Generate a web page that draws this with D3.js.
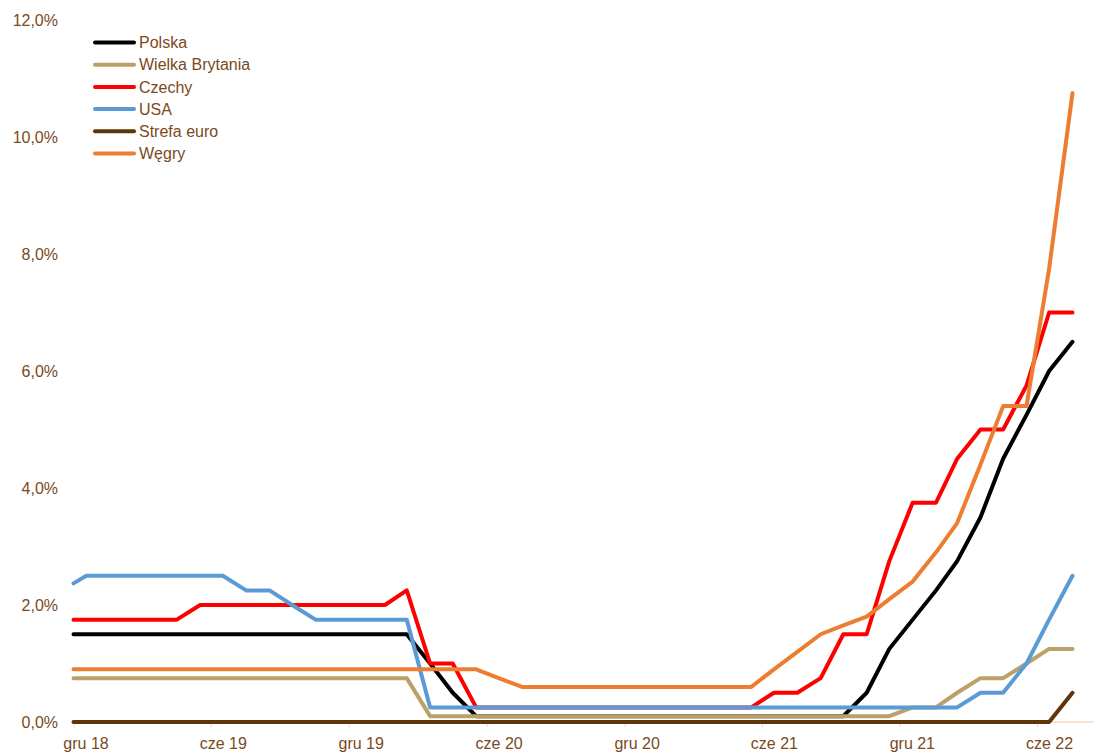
<!DOCTYPE html>
<html>
<head>
<meta charset="utf-8">
<script src="https://cdn.jsdelivr.net/npm/d3@7"></script>
<style>
    body { margin: 0; background: #fff; }
    svg { display: block; font-family: "Liberation Sans", Arial, sans-serif; }
</style>
</head>
<body>
<svg id="chart"></svg>
<script>
// month-end observations (first one is the start of the window)
const dates = [
    "2018-12-14", "2018-12-31",
    "2019-01-31", "2019-02-28", "2019-03-31", "2019-04-30", "2019-05-31", "2019-06-30",
    "2019-07-31", "2019-08-31", "2019-09-30", "2019-10-31", "2019-11-30", "2019-12-31",
    "2020-01-31", "2020-02-29", "2020-03-31", "2020-04-30", "2020-05-31", "2020-06-30",
    "2020-07-31", "2020-08-31", "2020-09-30", "2020-10-31", "2020-11-30", "2020-12-31",
    "2021-01-31", "2021-02-28", "2021-03-31", "2021-04-30", "2021-05-31", "2021-06-30",
    "2021-07-31", "2021-08-31", "2021-09-30", "2021-10-31", "2021-11-30", "2021-12-31",
    "2022-01-31", "2022-02-28", "2022-03-31", "2022-04-30", "2022-05-31", "2022-06-30",
    "2022-07-31"
];

const polska = [1.5, 1.5, 1.5, 1.5, 1.5, 1.5, 1.5, 1.5, 1.5, 1.5, 1.5, 1.5, 1.5, 1.5, 1.5, 1.5,
    1.0, 0.5, 0.1, 0.1, 0.1, 0.1, 0.1, 0.1, 0.1, 0.1, 0.1, 0.1, 0.1, 0.1, 0.1, 0.1, 0.1, 0.1, 0.1,
    0.5, 1.25, 1.75, 2.25, 2.75, 3.5, 4.5, 5.25, 6.0, 6.5];

const wielkaBrytania = [0.75, 0.75, 0.75, 0.75, 0.75, 0.75, 0.75, 0.75, 0.75, 0.75, 0.75, 0.75, 0.75, 0.75, 0.75, 0.75,
    0.1, 0.1, 0.1, 0.1, 0.1, 0.1, 0.1, 0.1, 0.1, 0.1, 0.1, 0.1, 0.1, 0.1, 0.1, 0.1, 0.1, 0.1, 0.1, 0.1, 0.1,
    0.25, 0.25, 0.5, 0.75, 0.75, 1.0, 1.25, 1.25];

const czechy = [1.75, 1.75, 1.75, 1.75, 1.75, 1.75,
    2.0, 2.0, 2.0, 2.0, 2.0, 2.0, 2.0, 2.0, 2.0, 2.25, 1.0, 1.0,
    0.25, 0.25, 0.25, 0.25, 0.25, 0.25, 0.25, 0.25, 0.25, 0.25, 0.25, 0.25, 0.25,
    0.5, 0.5, 0.75, 1.5, 1.5, 2.75, 3.75, 3.75, 4.5, 5.0, 5.0, 5.75, 7.0, 7.0];

const usa = [2.37, 2.5, 2.5, 2.5, 2.5, 2.5, 2.5, 2.5, 2.25, 2.25, 2.0,
    1.75, 1.75, 1.75, 1.75, 1.75,
    0.25, 0.25, 0.25, 0.25, 0.25, 0.25, 0.25, 0.25, 0.25, 0.25, 0.25, 0.25, 0.25, 0.25, 0.25, 0.25,
    0.25, 0.25, 0.25, 0.25, 0.25, 0.25, 0.25, 0.25,
    0.5, 0.5, 1.0, 1.75, 2.5];

const strefaEuro = [0, 0, 0, 0, 0, 0, 0, 0, 0, 0, 0, 0, 0, 0, 0, 0, 0, 0, 0, 0, 0, 0,
    0, 0, 0, 0, 0, 0, 0, 0, 0, 0, 0, 0, 0, 0, 0, 0, 0, 0, 0, 0, 0, 0, 0.5];

const wegry = [0.9, 0.9, 0.9, 0.9, 0.9, 0.9, 0.9, 0.9, 0.9, 0.9, 0.9, 0.9, 0.9, 0.9, 0.9, 0.9, 0.9, 0.9, 0.9,
    0.75, 0.6, 0.6, 0.6, 0.6, 0.6, 0.6, 0.6, 0.6, 0.6, 0.6, 0.6,
    0.9, 1.2, 1.5, 1.65, 1.8, 2.1, 2.4, 2.9, 3.4, 4.4, 5.4, 5.4, 7.75, 10.75];

const seriesNames = ["Polska", "Wielka Brytania", "Czechy", "USA", "Strefa euro", "Węgry"];
const seriesColors = ["#000000", "#b9a167", "#ff0000", "#5b9bd5", "#5f3408", "#ed7d31"];
const seriesValues = [polska, wielkaBrytania, czechy, usa, strefaEuro, wegry];

const tickDates = ["2018-12-14", "2019-06-14", "2019-12-14", "2020-06-14",
    "2020-12-14", "2021-06-14", "2021-12-14", "2022-06-14"];
const tickLabels = ["gru 18", "cze 19", "gru 19", "cze 20", "gru 20", "cze 21", "gru 21", "cze 22"];
const yTicks = [0, 2, 4, 6, 8, 10, 12];

const textColor = "#7a4a1c";
const W = 1094, H = 755;
const parse = d3.utcParse("%Y-%m-%d");

const svg = d3.select("#chart").attr("width", W).attr("height", H);

const x = d3.scaleUtc()
    .domain([parse(dates[0]), parse(dates[dates.length - 1])])
    .range([73.5, 1072.5]);

const y = d3.scaleLinear()
    .domain([0, 12])
    .range([722, 20]);

// y axis: labels only
const yAxis = svg.append("g")
    .attr("transform", "translate(61,0)")
    .call(d3.axisLeft(y).tickValues(yTicks).tickSize(0).tickPadding(3)
        .tickFormat(d => d.toFixed(1).replace(".", ",") + "%"));
yAxis.select(".domain").remove();
yAxis.selectAll("text")
    .attr("fill", textColor)
    .attr("font-size", 16)
    .attr("font-family", "Liberation Sans, Arial, sans-serif");

// x axis
const xAxis = svg.append("g")
    .attr("transform", "translate(0,722)")
    .call(d3.axisBottom(x)
        .tickValues(tickDates.map(parse))
        .tickSize(5)
        .tickPadding(11)
        .tickFormat((d, i) => tickLabels[i]));
xAxis.select(".domain").remove();
xAxis.append("line")
    .attr("x1", x.range()[0])
    .attr("x2", W)
    .attr("stroke", "#fbd7bb")
    .attr("stroke-width", 1.5);
xAxis.selectAll(".tick line").attr("stroke", "#fbd7bb");
xAxis.selectAll(".tick text")
    .attr("fill", textColor)
    .attr("font-size", 16)
    .attr("dx", 12)
    .attr("font-family", "Liberation Sans, Arial, sans-serif");

// lines
const line = d3.line()
    .x((d, i) => x(parse(dates[i])))
    .y(d => y(d));

seriesValues.forEach((vals, k) => {
    svg.append("path")
        .datum(vals)
        .attr("fill", "none")
        .attr("stroke", seriesColors[k])
        .attr("stroke-width", 4)
        .attr("stroke-linejoin", "round")
        .attr("stroke-linecap", "round")
        .attr("d", line);
});

// legend
const legend = svg.append("g").attr("transform", "translate(95,42.5)");
seriesNames.forEach((name, k) => {
    const row = legend.append("g").attr("transform", "translate(0," + (k * 22.2) + ")");
    row.append("line")
        .attr("x1", 0).attr("x2", 39)
        .attr("stroke", seriesColors[k])
        .attr("stroke-width", 4)
        .attr("stroke-linecap", "round");
    row.append("text")
        .attr("x", 44)
        .attr("dy", "0.35em")
        .attr("fill", textColor)
        .attr("font-size", 16)
        .text(name);
});
</script>
</body>
</html>
